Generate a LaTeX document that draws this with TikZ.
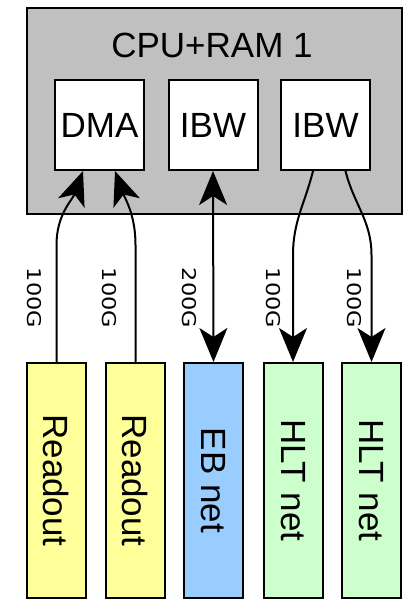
\documentclass[tikz,border=0pt]{standalone}
\usepackage{fontspec}
\setmainfont{Liberation Sans}
\newfontfamily\lblfont{DejaVu Sans}
\usetikzlibrary{arrows.meta}

\definecolor{hostgray}{HTML}{C0C0C0}
\definecolor{readoutyellow}{HTML}{FFFF99}
\definecolor{ebblue}{HTML}{99CCFF}
\definecolor{hltgreen}{HTML}{CCFFCC}

\tikzset{
  host/.style={draw, line width=2pt, fill=hostgray, minimum width=375pt, minimum height=206pt, inner sep=0pt},
  port/.style={draw, line width=2pt, fill=white, minimum width=89pt, minimum height=90pt, inner sep=0pt,
               font=\fontsize{35}{40}\selectfont, text height=25pt, text depth=0pt},
  netbox/.style={draw, line width=2pt, minimum width=59pt, minimum height=235pt, inner sep=0pt,
                 font=\fontsize{35}{40}\selectfont},
  rate/.style={inner sep=0pt, font=\lblfont\fontsize{19}{22}\selectfont},
  link/.style={line width=2pt, -{Stealth[length=34pt, width=28pt, inset=9pt]}},
  biglink/.style={line width=2pt, {Stealth[length=34pt, width=28pt, inset=9pt]}-{Stealth[length=34pt, width=28pt, inset=9pt]}}
}

\newcommand{\vtext}[1]{\rotatebox{-90}{#1}}
\newcommand{\ratetext}[1]{\rotatebox{-90}{\scalebox{1.18}[1]{#1}}}

\begin{document}
\begin{tikzpicture}[x=1pt, y=1pt]
\useasboundingbox (0,0) rectangle (406,-600);

% host machine with its three interfaces
\node[host] (cpu) at (214.5,-111) {};
\node[anchor=base, inner sep=0pt, font=\fontsize{35}{40}\selectfont] (cputitle) at (212,-57) {CPU+RAM 1};
\node[port] (dma) at (99.5,-125) {DMA};
\node[port] (ibwa) at (213,-125) {IBW};
\node[port] (ibwb) at (325.5,-125) {IBW};

% external networks and readout links
\node[netbox, fill=readoutyellow] (ro1) at (56.5,-480.5) {\vtext{Readout}};
\node[netbox, fill=readoutyellow] (ro2) at (135.5,-480.5) {\vtext{Readout}};
\node[netbox, fill=ebblue] (eb) at (213.5,-480.5) {\vtext{EB net}};
\node[netbox, fill=hltgreen] (hlt1) at (293,-480.5) {\vtext{HLT net}};
\node[netbox, fill=hltgreen] (hlt2) at (371.5,-480.5) {\vtext{HLT net}};

% bend points of the links
\coordinate (b1) at (56.5,-245);
\coordinate (b2) at (135.5,-245);
\coordinate (b4) at (293,-255);
\coordinate (b5) at (371.5,-255);

% links
\draw[link] (ro1.north) -- (b1) to[out=90, in=-110] ([xshift=-16.5pt]dma.south);
\draw[link] (ro2.north) -- (b2) to[out=90, in=-70] ([xshift=15.5pt]dma.south);
\draw[biglink] (ibwa.south) -- (eb.north);
\draw[link] ([xshift=-12.5pt]ibwb.south) to[out=-104, in=90] (b4) -- (hlt1.north);
\draw[link] ([xshift=20pt]ibwb.south) to[out=-76, in=90] (b5) -- (hlt2.north);

% link bandwidths
\node[rate] (r1) at (34,-298) {\ratetext{100G}};
\node[rate] (r2) at (109,-298) {\ratetext{100G}};
\node[rate] (r3) at (189,-298) {\ratetext{200G}};
\node[rate] (r4) at (273,-298) {\ratetext{100G}};
\node[rate] (r5) at (354,-298) {\ratetext{100G}};
\end{tikzpicture}
\end{document}
